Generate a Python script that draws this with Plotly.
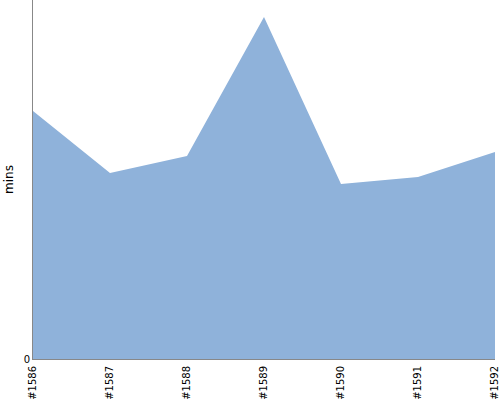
import plotly.graph_objects as go

builds = ["#1586", "#1587", "#1588", "#1589", "#1590", "#1591", "#1592"]
minutes = [24.8, 18.6, 20.3, 34.2, 17.5, 18.2, 20.7]
y_ticks = [0]

fig = go.Figure(go.Scatter(
    x=builds, y=minutes, mode="lines", fill="tozeroy",
    line=dict(width=0, color="#8fb2da"), fillcolor="#8fb2da",
    hoverinfo="x+y",
))
fig.update_layout(
    width=500, height=400, margin=dict(l=33, r=5, t=0, b=41),
    paper_bgcolor="white", plot_bgcolor="white", showlegend=False,
    font=dict(family="DejaVu Sans", size=10, color="black"),
)
fig.update_xaxes(type="category", range=[0, 6], tickangle=-90, showgrid=False,
                 showline=True, linecolor="#888888", linewidth=1, ticks="",
                 zeroline=False, automargin=False, ticklabelstandoff=2)
fig.update_yaxes(range=[0, 35.9], tickvals=y_ticks, showgrid=False, showline=True,
                 linecolor="#888888", linewidth=1, zeroline=False, automargin=False,
                 title=dict(text="mins", standoff=7))
fig.write_html("out.html", config={"displayModeBar": False},
               post_script="document.body.style.margin='0';document.body.style.overflow='hidden';")
